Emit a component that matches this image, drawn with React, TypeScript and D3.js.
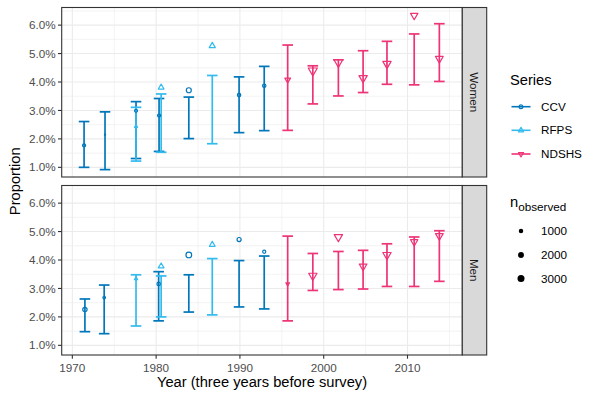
import * as d3 from 'd3';
import { useEffect } from 'react';

// one row per estimate (percent)
const sexes = ['Women', 'Men'];
const seriesNames = ['CCV', 'RFPS', 'NDSHS'];
const seriesColors = ['#0077BB', '#33BBEE', '#EE3377'];

const rowSex = [
  'Women', 'Women', 'Women', 'Women', 'Women', 'Women', 'Women',
  'Women', 'Women', 'Women',
  'Women', 'Women', 'Women', 'Women', 'Women', 'Women', 'Women',
  'Men', 'Men', 'Men', 'Men', 'Men', 'Men',
  'Men', 'Men', 'Men',
  'Men', 'Men', 'Men', 'Men', 'Men', 'Men', 'Men',
];
const rowSeries = [
  'CCV', 'CCV', 'CCV', 'CCV', 'CCV', 'CCV', 'CCV',
  'RFPS', 'RFPS', 'RFPS',
  'NDSHS', 'NDSHS', 'NDSHS', 'NDSHS', 'NDSHS', 'NDSHS', 'NDSHS',
  'CCV', 'CCV', 'CCV', 'CCV', 'CCV', 'CCV',
  'RFPS', 'RFPS', 'RFPS',
  'NDSHS', 'NDSHS', 'NDSHS', 'NDSHS', 'NDSHS', 'NDSHS', 'NDSHS',
];
const rowYear = [
  1971.4, 1973.9, 1977.6, 1980.35, 1983.9, 1989.9, 1992.9,
  1977.6, 1980.6, 1986.7,
  1995.7, 1998.7, 2001.75, 2004.7, 2007.55, 2010.8, 2013.8,
  1971.5, 1973.8, 1980.3, 1983.9, 1989.9, 1992.9,
  1977.6, 1980.6, 1986.7,
  1995.7, 1998.7, 2001.75, 2004.7, 2007.55, 2010.8, 2013.8,
];
const rowEst = [
  1.77, 2.15, 2.99, 2.82, 3.71, 3.54, 3.87,
  2.44, 3.81, 5.27,
  4.08, 4.40, 4.70, 4.14, 4.64, 6.34, 4.82,
  2.26, 2.68, 3.16, 4.18, 4.72, 4.29,
  3.34, 3.78, 4.54,
  3.16, 3.45, 4.81, 3.78, 4.18, 4.64, 4.85,
];
const rowLow = [
  1.0, 0.92, 1.31, 1.56, 2.01, 2.22, 2.29,
  1.22, 1.53, 1.83,
  2.30, 3.23, 3.51, 3.63, 3.92, 3.90, 4.02,
  1.48, 1.41, 1.86, 2.17, 2.35, 2.28,
  1.68, 2.0, 2.07,
  1.86, 2.93, 2.96, 2.98, 3.07, 3.07, 3.25,
];
const rowHigh = [
  2.61, 2.95, 3.31, 3.42, 3.47, 4.18, 4.55,
  3.11, 3.58, 4.23,
  5.30, 4.57, 4.78, 5.10, 5.43, 5.69, 6.05,
  2.63, 3.12, 3.59, 3.48, 3.98, 4.14,
  3.48, 3.44, 4.05,
  4.84, 4.23, 4.30, 4.34, 4.57, 4.81, 5.03,
];
const rowN = [
  800, 120, 750, 800, 2080, 950, 950,
  450, 1500, 1700,
  1500, 3800, 3800, 3160, 3160, 2450, 2720,
  1570, 560, 950, 2680, 1400, 800,
  520, 1500, 1500,
  650, 3160, 3160, 2720, 3160, 2450, 2720,
];

const yTicks = [1, 2, 3, 4, 5, 6];
const xTicks = [1970, 1980, 1990, 2000, 2010];
const sizeBreaks = [1000, 2000, 3000];

const W = 600;
const H = 400;
const left = 61.7;
const right = 462.3;
const panelTop = [7.5, 185.5];
const panelH = 169.5;
const stripW = 24.4;
const font = '"Liberation Sans", Arial, Helvetica, sans-serif';

const x = d3.scaleLinear().domain([1968.73, 2016.54]).range([left, right]);
const yFor = (i: number) =>
  d3.scaleLinear().domain([0.66, 6.62]).range([panelTop[i] + panelH, panelTop[i]]);
const r = d3.scaleSqrt().domain([0, 3000]).range([0, 3]);
const color = d3.scaleOrdinal<string, string>().domain(seriesNames).range(seriesColors);

function Marker({ series, cx, cy, rad, col }: { series: string; cx: number; cy: number; rad: number; col: string }) {
  if (series === 'CCV') {
    return <circle cx={cx} cy={cy} r={rad} fill="none" stroke={col} strokeWidth={1.2} />;
  }
  const R = 1.555 * rad;
  const hw = 1.347 * rad;
  const b = 0.778 * rad;
  const s = series === 'RFPS' ? 1 : -1;
  const pts = [
    [cx, cy - s * R],
    [cx + hw, cy + s * b],
    [cx - hw, cy + s * b],
  ];
  return (
    <polygon
      points={pts.map((p) => p.join(',')).join(' ')}
      fill="none"
      stroke={col}
      strokeWidth={1.2}
      strokeLinejoin="round"
    />
  );
}

function Panel({ idx }: { idx: number }) {
  const y = yFor(idx);
  const top = panelTop[idx];
  const bottom = top + panelH;
  const rows = d3.range(rowSex.length).filter((i) => rowSex[i] === sexes[idx]);
  const minorX = d3.range(1965, 2020, 10).filter((v) => x(v) > left && x(v) < right);
  const minorY = d3.range(0.5, 7, 1).filter((v) => y(v) < bottom && y(v) > top);
  const capHalf = 5.3;
  return (
    <g>
      <rect x={left} y={top} width={right - left} height={panelH} fill="#fff" />
      {minorX.map((v) => (
        <line key={'mx' + v} x1={x(v)} x2={x(v)} y1={top} y2={bottom} stroke="#EBEBEB" strokeWidth={0.6} />
      ))}
      {minorY.map((v) => (
        <line key={'my' + v} x1={left} x2={right} y1={y(v)} y2={y(v)} stroke="#EBEBEB" strokeWidth={0.6} />
      ))}
      {xTicks.map((v) => (
        <line key={'gx' + v} x1={x(v)} x2={x(v)} y1={top} y2={bottom} stroke="#EBEBEB" strokeWidth={1.1} />
      ))}
      {yTicks.map((v) => (
        <line key={'gy' + v} x1={left} x2={right} y1={y(v)} y2={y(v)} stroke="#EBEBEB" strokeWidth={1.1} />
      ))}
      {rows.map((i) => {
        const col = color(rowSeries[i]);
        const cx = x(rowYear[i]);
        return (
          <g key={'e' + i} stroke={col} strokeWidth={1.7} fill="none">
            <line x1={cx} x2={cx} y1={y(rowLow[i])} y2={y(rowHigh[i])} />
            <line x1={cx - capHalf} x2={cx + capHalf} y1={y(rowLow[i])} y2={y(rowLow[i])} />
            <line x1={cx - capHalf} x2={cx + capHalf} y1={y(rowHigh[i])} y2={y(rowHigh[i])} />
          </g>
        );
      })}
      {rows.map((i) => (
        <Marker
          key={'p' + i}
          series={rowSeries[i]}
          cx={x(rowYear[i])}
          cy={y(rowEst[i])}
          rad={r(rowN[i])}
          col={color(rowSeries[i])}
        />
      ))}
      <rect x={left} y={top} width={right - left} height={panelH} fill="none" stroke="#333" strokeWidth={1.1} />
      {/* strip */}
      <rect x={right} y={top} width={stripW} height={panelH} fill="#D9D9D9" stroke="#333" strokeWidth={1.1} />
      <text
        transform={`translate(${right + stripW / 2},${top + panelH / 2}) rotate(90)`}
        textAnchor="middle"
        dy="0.35em"
        fontSize={11.7}
        fill="#1A1A1A"
      >
        {sexes[idx]}
      </text>
      {/* y axis */}
      {yTicks.map((v) => (
        <g key={'ty' + v}>
          <line x1={left - 3.7} x2={left} y1={y(v)} y2={y(v)} stroke="#333" strokeWidth={1.1} />
          <text x={left - 6} y={y(v)} dy="0.35em" textAnchor="end" fontSize={11.7} fill="#4D4D4D">
            {d3.format('.1f')(v) + '%'}
          </text>
        </g>
      ))}
    </g>
  );
}

function Legend() {
  const lx = 510;
  const keyY = [106.7, 130.3, 154];
  const sizeY = [231, 255, 278.5];
  return (
    <g>
      <text x={lx} y={85} fontSize={14.7} fill="#000">Series</text>
      {seriesNames.map((s, i) => (
        <g key={s}>
          <line x1={511.5} x2={530.5} y1={keyY[i]} y2={keyY[i]} stroke={color(s)} strokeWidth={1.6} />
          <Marker series={s} cx={521} cy={keyY[i]} rad={1.9} col={color(s)} />
          <text x={541} y={keyY[i]} dy="0.35em" fontSize={11.7} fill="#000">{s}</text>
        </g>
      ))}
      <text x={lx} y={207} fontSize={14.7} fill="#000">
        n<tspan fontSize={11.7} dy={4}>observed</tspan>
      </text>
      {sizeBreaks.map((n, i) => (
        <g key={n}>
          <circle cx={521} cy={sizeY[i]} r={r(n) + 0.5} fill="#000" />
          <text x={541} y={sizeY[i]} dy="0.35em" fontSize={11.7} fill="#000">{n}</text>
        </g>
      ))}
    </g>
  );
}

export default function App() {
  useEffect(() => {
    document.body.style.margin = '0';
  }, []);
  const bottom = panelTop[1] + panelH;
  return (
    <svg width={W} height={H} style={{ display: 'block', fontFamily: font }}>
      <rect width={W} height={H} fill="#fff" />
      <Panel idx={0} />
      <Panel idx={1} />
      {xTicks.map((v) => (
        <g key={'tx' + v}>
          <line x1={x(v)} x2={x(v)} y1={bottom} y2={bottom + 3.7} stroke="#333" strokeWidth={1.1} />
          <text x={x(v)} y={bottom + 17} textAnchor="middle" fontSize={11.7} fill="#4D4D4D">{v}</text>
        </g>
      ))}
      <text x={(left + right) / 2} y={387} textAnchor="middle" fontSize={14.7} fill="#000">
        Year (three years before survey)
      </text>
      <text
        transform={`translate(20,${(panelTop[0] + bottom) / 2}) rotate(-90)`}
        textAnchor="middle"
        fontSize={14.7}
        fill="#000"
      >
        Proportion
      </text>
      <Legend />
    </svg>
  );
}
